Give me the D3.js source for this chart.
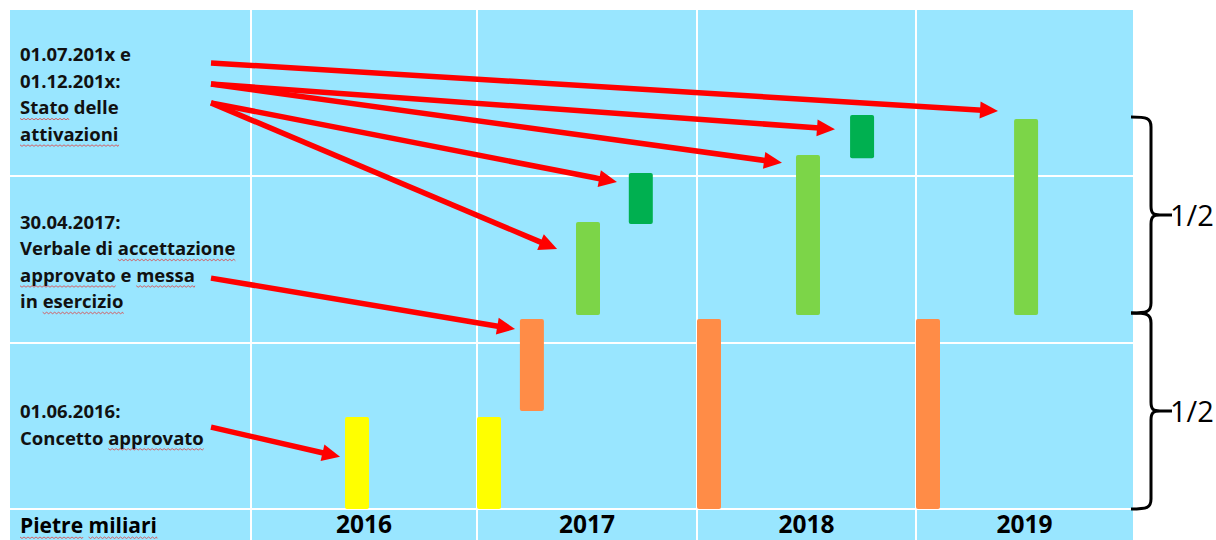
<!DOCTYPE html>
<html>
<head>
<meta charset="utf-8">
<script src="https://cdn.jsdelivr.net/npm/d3@7"></script>
<style>
  html, body { margin: 0; padding: 0; background: #ffffff; }
  svg { display: block; font-family: "Open Sans", sans-serif; }
</style>
</head>
<body>
<div class="chart"></div>
<script>
// milestone timeline: x = date as fractional year, y = progress (%)
const years = [2016, 2017, 2018, 2019];
const yearEdges = [2016, 2017, 2018, 2019, 2020];
const firstColumnLabel = "Pietre miliari";

const barDate = [2016.416, 2017.0, 2017.195, 2017.45, 2017.69, 2018.0, 2018.452, 2018.699, 2019.0, 2019.452];
const barLow = [0, 0, 25, 49.5, 72.7, 0, 49.5, 89.5, 0, 49.5];
const barHigh = [23.5, 23.5, 48.5, 73.2, 85.7, 48.5, 90.3, 100.5, 48.5, 99.5];
const barPhase = ["concetto", "concetto", "accettazione", "attivazione", "stato",
  "accettazione", "attivazione", "stato", "accettazione", "attivazione"];

// label blocks: lines, words flagged by the spell checker are wrapped in []
const labelBlocks = [
  ["01.07.201x e", "01.12.201x:", "[Stato] delle", "[attivazioni]"],
  ["30.04.2017:", "Verbale di [accettazione]", "[approvato] e [messa]", "in [esercizio]"],
  ["01.06.2016:", "Concetto [approvato]"]
];
const labelPct = [114.2, 71.5, 23.2]; // baseline of the first line, on the progress scale

// arrows: start height (%) in label column -> tip (date, %)
const arrowFromPct = [113.8, 108.4, 108.4, 103.6, 103.6, 58.9, 20.9];
const arrowToDate = [2019.378, 2018.630, 2018.388, 2017.636, 2017.364, 2017.173, 2016.394];
const arrowToPct = [101.5, 96.9, 88.3, 83.4, 66.3, 45.9, 13.3];

// the two halves marked by the braces
const braceFrom = [100, 50];
const braceTo = [50, 0];
const braceText = ["1/2", "1/2"];

const phaseColor = {
  concetto: "#FFFF00",
  accettazione: "#FF8C47",
  attivazione: "#7CD548",
  stato: "#00B050"
};

const W = 1216, H = 540;
const table = { left: 10, top: 10, right: 1133, bottom: 540 };
const rowLines = [176, 343];

const svg = d3.select(".chart").append("svg")
  .attr("width", W).attr("height", H);

// piecewise scale: the table columns are not exactly equal
const x = d3.scaleLinear().domain(yearEdges).range([251, 477, 697, 916, 1133]);
const y = d3.scaleLinear().domain([0, 100]).range([509, 117]);

svg.append("rect")
  .attr("x", table.left).attr("y", table.top)
  .attr("width", table.right - table.left).attr("height", table.bottom - table.top)
  .attr("fill", "#99E6FF");

// table grid
svg.selectAll(".vline").data(yearEdges.slice(0, 4)).enter().append("line")
  .attr("class", "vline")
  .attr("x1", d => x(d)).attr("x2", d => x(d))
  .attr("y1", table.top).attr("y2", table.bottom)
  .attr("stroke", "#ffffff").attr("stroke-width", 2);

svg.selectAll(".hline").data(rowLines.concat([y(0)])).enter().append("line")
  .attr("class", "hline")
  .attr("x1", table.left).attr("x2", table.right)
  .attr("y1", d => d).attr("y2", d => d)
  .attr("stroke", "#ffffff").attr("stroke-width", 2);

// bars
const bars = barDate.map((d, i) => ({ date: d, low: barLow[i], high: barHigh[i], phase: barPhase[i] }));
svg.selectAll(".bar").data(bars).enter().append("rect")
  .attr("class", "bar")
  .attr("x", d => x(d.date))
  .attr("y", d => y(d.high))
  .attr("width", 24)
  .attr("height", d => y(d.low) - y(d.high))
  .attr("rx", 2)
  .attr("fill", d => phaseColor[d.phase]);

// bottom row labels
svg.append("text")
  .attr("x", 20).attr("y", 533)
  .attr("font-size", 21).attr("font-weight", 700)
  .attr("class", "lbl")
  .text(firstColumnLabel);

svg.selectAll(".year").data(years).enter().append("text")
  .attr("class", "year")
  .attr("x", d => (x(d) + x(d + 1)) / 2)
  .attr("y", 533)
  .attr("text-anchor", "middle")
  .attr("font-size", 24.5).attr("font-weight", 700)
  .text(d => d);

// label blocks
const lineGap = 26.5;
labelBlocks.forEach((lines, b) => {
  lines.forEach((line, j) => {
    const t = svg.append("text")
      .attr("class", "lbl")
      .attr("x", 20)
      .attr("y", y(labelPct[b]) + j * lineGap)
      .attr("font-size", 18.5).attr("font-weight", 700)
      .attr("fill", "#111111");
    line.split(/(\[[^\]]+\])/).filter(s => s.length).forEach(part => {
      const spell = part.startsWith("[");
      t.append("tspan")
        .attr("class", spell ? "spell" : null)
        .text(spell ? part.slice(1, -1) : part);
    });
  });
});

// wavy red underline under the flagged words
svg.selectAll("text.lbl").each(function () {
  const textEl = this;
  if (this.childNodes.length === 0) return;
  let idx = 0;
  const baseY = +d3.select(this).attr("y");
  Array.from(this.childNodes).forEach(node => {
    const len = node.textContent.length;
    if (node.classList && node.classList.contains("spell")) {
      const x0 = textEl.getStartPositionOfChar(idx).x;
      const x1 = textEl.getEndPositionOfChar(idx + len - 1).x;
      let p = `M${x0},${baseY + 4}`;
      for (let xx = x0, k = 0; xx < x1; xx += 2, k++) {
        p += ` L${Math.min(xx + 2, x1)},${baseY + (k % 2 ? 4 : 5.5)}`;
      }
      svg.append("path").attr("d", p)
        .attr("fill", "none").attr("stroke", "#E04040").attr("stroke-width", 0.8);
    }
    idx += len;
  });
});
// "Pietre miliari" is also flagged, word by word
(function () {
  const el = svg.selectAll("text.lbl").filter(function () { return this.textContent === firstColumnLabel; }).node();
  const n = firstColumnLabel.length;
  [[0, 5], [7, n - 1]].forEach(([a, b]) => {
    const x0 = el.getStartPositionOfChar(a).x, x1 = el.getEndPositionOfChar(b).x;
    let p = `M${x0},537`;
    for (let xx = x0, k = 0; xx < x1; xx += 2, k++) p += ` L${Math.min(xx + 2, x1)},${k % 2 ? 537 : 538.5}`;
    svg.append("path").attr("d", p).attr("fill", "none").attr("stroke", "#E04040").attr("stroke-width", 0.8);
  });
})();

// red arrows
const arrowStartX = 211;
const head = 18, halfW = 8.5;
arrowFromPct.forEach((p0, i) => {
  const sx = arrowStartX, sy = y(p0);
  const tx = x(arrowToDate[i]), ty = y(arrowToPct[i]);
  const dx = tx - sx, dy = ty - sy, L = Math.hypot(dx, dy);
  const ux = dx / L, uy = dy / L;
  const bx = tx - ux * head, by = ty - uy * head;
  svg.append("line")
    .attr("x1", sx).attr("y1", sy)
    .attr("x2", bx + ux * 2).attr("y2", by + uy * 2)
    .attr("stroke", "#FF0000").attr("stroke-width", 5.5);
  svg.append("path")
    .attr("d", `M${tx},${ty} L${bx - uy * halfW},${by + ux * halfW} L${bx + uy * halfW},${by - ux * halfW} Z`)
    .attr("fill", "#FF0000");
});

// braces
const bx0 = 1131, bx1 = 1151, btip = 1172;
braceFrom.forEach((p, i) => {
  const ya = y(p), yb = y(braceTo[i]), ym = (ya + yb) / 2;
  const d = `M${bx0},${ya} C${bx0 + 16},${ya} ${bx1},${ya + 1} ${bx1},${ya + 10}` +
    ` L${bx1},${ym - 9} C${bx1},${ym - 2} ${bx1 + 2},${ym} ${bx1 + 9},${ym} L${btip},${ym}` +
    ` M${bx1 + 9},${ym} C${bx1 + 2},${ym} ${bx1},${ym + 2} ${bx1},${ym + 9}` +
    ` L${bx1},${yb - 10} C${bx1},${yb - 1} ${bx0 + 16},${yb} ${bx0},${yb}`;
  svg.append("path").attr("d", d)
    .attr("fill", "none").attr("stroke", "#000000").attr("stroke-width", 3);
  svg.append("text")
    .attr("x", 1170).attr("y", ym + 11)
    .attr("font-size", 29)
    .text(braceText[i]);
});
</script>
</body>
</html>
